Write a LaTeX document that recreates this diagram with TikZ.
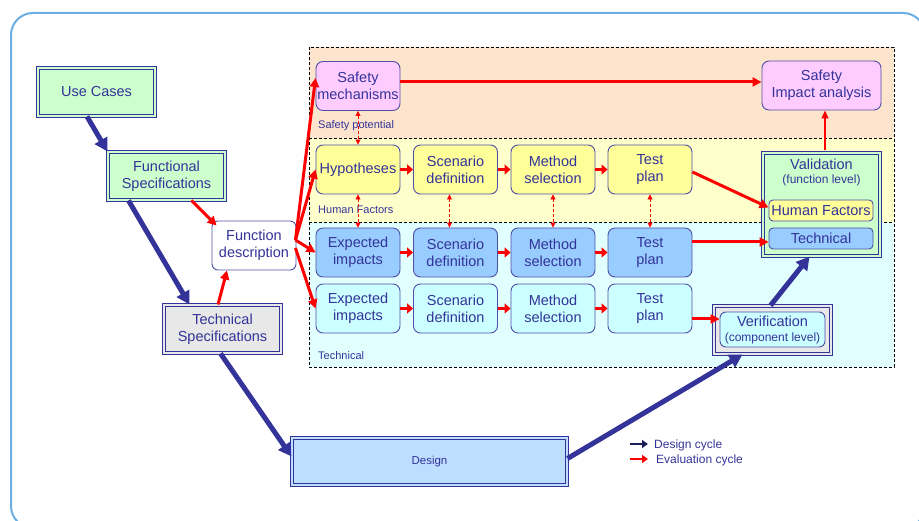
\documentclass[tikz,border=0pt]{standalone}
\usepackage{fontspec}
\setmainfont{Liberation Sans}
\usetikzlibrary{arrows.meta,calc}
\definecolor{ink}{HTML}{333399}
\definecolor{edge}{HTML}{4F4FA8}
\definecolor{framecol}{HTML}{6AAEE4}
\definecolor{pinkfill}{HTML}{FFCCFF}
\definecolor{yelfill}{HTML}{FFFF99}
\definecolor{bluefill}{HTML}{99CCFF}
\definecolor{cyanfill}{HTML}{CCFFFF}
\definecolor{greenfill}{HTML}{CCFFCC}
\definecolor{greyfill}{HTML}{E8E8E8}
\definecolor{designfill}{HTML}{BDDEFF}
\definecolor{safetyband}{HTML}{FDE4CC}
\definecolor{hfband}{HTML}{FFFFCC}
\definecolor{techband}{HTML}{E2FFFF}
\definecolor{evalred}{HTML}{FF0000}
\definecolor{legendnavy}{HTML}{1E1E5A}

\begin{document}
\begin{tikzpicture}[x=1pt,y=-1pt,
  every node/.style={text=ink, font=\fontsize{14.5}{17}\selectfont, inner sep=0pt, align=center},
  stage/.style={draw=edge, line width=0.9pt, rounded corners=7pt, minimum width=84pt, minimum height=49pt},
  spec/.style={draw=ink, line width=1pt, double distance=2pt, minimum width=117pt, minimum height=48pt},
  tag/.style={font=\fontsize{11}{13}\selectfont, anchor=west},
  smalltext/.style={font=\fontsize{12}{14}\selectfont},
  designflow/.style={draw=ink, line width=5pt, -{Triangle[length=13pt,width=14pt]}},
  evalflow/.style={draw=evalred, line width=3pt, -{Triangle[length=9pt,width=9pt]}},
  hop/.style={draw=evalred, line width=3.5pt, -{Triangle[length=6pt,width=10pt]}},
  thinflow/.style={color=evalred, line width=1.3pt, -{Triangle[length=8pt,width=7pt]}},
  link/.style={draw=evalred, line width=0.8pt, dash pattern=on 3pt off 2pt,
    {Triangle[length=5pt,width=5pt]}-{Triangle[length=5pt,width=5pt]}},
  bandline/.style={draw=black, line width=0.8pt, dash pattern=on 3pt off 2pt},
]
\useasboundingbox (0,0) rectangle (919,521);

% outer frame
\begin{scope}
  \clip (0,0) rectangle (919,521);
  \draw[framecol, line width=2pt, rounded corners=22pt] (11,13) rectangle (925,528);
\end{scope}

% evaluation bands
\fill[safetyband] (309,47) rectangle (894,138);
\fill[hfband] (309,138) rectangle (894,222);
\fill[techband] (309,222) rectangle (894,367);
\draw[bandline] (309,47) rectangle (894,367);
\draw[bandline] (309,138) -- (894,138);
\draw[bandline] (309,222) -- (894,222);

\node[tag] (tagsafety) at (318,126) {Safety potential};
\node[tag] (taghf) at (318,210) {Human Factors};
\node[tag] (tagtech) at (318,356) {Technical};

% design chain
\node[spec, fill=greenfill, double=greenfill] (uc) at (96.5,92) {Use Cases};
\node[spec, fill=greenfill, double=greenfill] (fs) at (166.5,176) {Functional\\Specifications};
\node[spec, fill=greyfill, double=greyfill] (ts) at (222.5,329) {Technical\\Specifications};
\node[spec, fill=designfill, double=designfill, minimum width=275pt, minimum height=47pt,
      font=\fontsize{11.5}{14}\selectfont] (dsg) at (429.5,461.5) {Design};
\node[stage, fill=white, rounded corners=6pt] (fd) at (254,245.5) {Function\\description};

% safety row
\node[stage, fill=pinkfill] (sm) at (358,86) {Safety\\mechanisms};
\node[stage, fill=pinkfill, minimum width=119pt] (sia) at (821.5,85.5) {Safety\\Impact analysis};

% human factors row
\node[stage, fill=yelfill] (hyp) at (358,169.5) {Hypotheses};
\node[stage, fill=yelfill] (sc1) at (455.5,169.5) {Scenario\\definition};
\node[stage, fill=yelfill] (ms1) at (553,169.5) {Method\\selection};
\node[stage, fill=yelfill] (tp1) at (650,169.5) {Test\\plan};

% technical rows
\node[stage, fill=bluefill] (ei2) at (358,252.5) {Expected\\impacts};
\node[stage, fill=bluefill] (sc2) at (455.5,252.5) {Scenario\\definition};
\node[stage, fill=bluefill] (ms2) at (553,252.5) {Method\\selection};
\node[stage, fill=bluefill] (tp2) at (650,252.5) {Test\\plan};

\node[stage, fill=cyanfill] (ei3) at (358,308.5) {Expected\\impacts};
\node[stage, fill=cyanfill] (sc3) at (455.5,308.5) {Scenario\\definition};
\node[stage, fill=cyanfill] (ms3) at (553,308.5) {Method\\selection};
\node[stage, fill=cyanfill] (tp3) at (650,308.5) {Test\\plan};

% validation
\node[spec, fill=greenfill, double=greenfill, minimum height=103pt] (val) at (821.5,204.5) {};
\node (valtitle) at (821.5,164) {Validation};
\node[smalltext] (vallevel) at (821.5,180) {(function level)};
\node[stage, fill=yelfill, rounded corners=4pt, minimum width=104pt, minimum height=21pt] (valhf) at (821,210.5) {Human Factors};
\node[stage, fill=bluefill, rounded corners=4pt, minimum width=104pt, minimum height=21pt] (valtech) at (821,238.5) {Technical};

% verification
\node[spec, fill=greyfill, double=greyfill] (ver) at (772.5,330) {};
\node[stage, fill=cyanfill, rounded corners=6pt, minimum width=105pt, minimum height=35pt] (verin) at (772.5,329.5)
  {Verification\\[-2pt]{\fontsize{12}{14}\selectfont (component level)}};

% design cycle arrows
\draw[designflow] ($(uc.south)+(-9.5,0)$) -- (fs.north west);
\draw[designflow] ($(fs.south)+(-38,0)$) -- ($(ts.north)+(-33,0)$);
\draw[designflow] ($(ts.south)+(-2,0)$) -- ($(dsg.west)+(0,-5)$);
\draw[designflow] ($(dsg.east)+(0,-3)$) -- ($(ver.south)+(-30,0)$);
\draw[designflow] ($(ver.north)+(-2,0)$) -- ($(val.south)+(-12,0)$);

% evaluation cycle arrows
\draw[evalflow] ($(fs.south)+(25,0)$) -- ($(fd.north west)+(5,5)$);
\draw[evalflow] ($(ts.north)+(-4.5,0)$) -- ($(fd.south)+(-27,0)$);
\draw[evalflow] ($(fd.east)+(-1,-5.5)$) -- ($(sm.west)+(0,-8)$);
\draw[evalflow] ($(fd.east)+(-1,-5.5)$) -- (hyp.west);
\draw[evalflow] ($(fd.east)+(-1,-5.5)$) -- (ei2.west);
\draw[evalflow] ($(fd.east)+(-1,2.5)$) -- (ei3.west);

\draw[evalflow] ($(sm.east)+(0,-4)$) -- ($(sia.west)+(0,-3.5)$);

\foreach \a/\b in {hyp/sc1, sc1/ms1, ms1/tp1, ei2/sc2, sc2/ms2, ms2/tp2, ei3/sc3, sc3/ms3, ms3/tp3}
  \draw[hop] (\a.east) -- (\b.west);

\draw[evalflow] ($(tp1.east)+(0,2.5)$) -- ($(valhf.west)+(0,-3)$);
\draw[evalflow] ($(tp2.east)+(0,-10.5)$) -- ($(valtech.west)+(0,3.5)$);
\draw[evalflow] ($(tp3.east)+(0,10.5)$) -- ($(verin.west)+(0,-10.5)$);
\draw[thinflow] ($(val.north)+(3.5,-2)$) -- ($(sia.south)+(3.5,0)$);

% links between evaluation layers
\draw[link] (sm.south) -- (hyp.north);
\draw[link] (hyp.south) -- (ei2.north);
\draw[link] ($(sc1.south)+(-6,0)$) -- ($(sc2.north)+(-6,0)$);
\draw[link] (ms1.south) -- (ms2.north);
\draw[link] (tp1.south) -- (tp2.north);

% legend
\coordinate (lgdA) at (630,444);
\coordinate (lgdB) at (648,444);
\coordinate (lgeA) at (630,459);
\coordinate (lgeB) at (648,459);
\draw[legendnavy, line width=2.5pt, -{Triangle[length=6pt,width=8pt]}] (lgdA) -- (lgdB);
\draw[evalred, line width=2.5pt, -{Triangle[length=6pt,width=8pt]}] (lgeA) -- (lgeB);
\node[anchor=west, font=\fontsize{12}{14}\selectfont] (lgdtext) at (654,445) {Design cycle};
\node[anchor=west, font=\fontsize{12}{14}\selectfont] (lgetext) at (656,460) {Evaluation cycle};
\end{tikzpicture}
\end{document}
